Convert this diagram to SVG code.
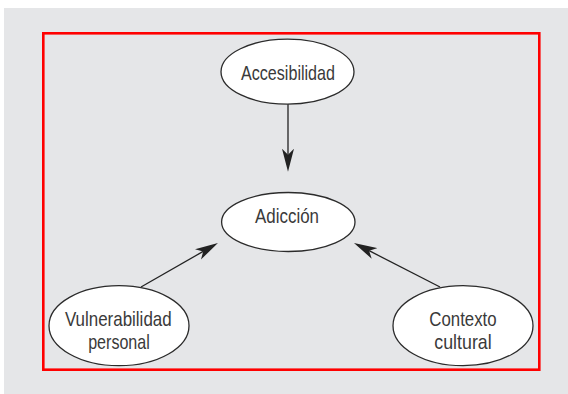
<svg xmlns="http://www.w3.org/2000/svg" width="568" height="394" viewBox="0 0 568 394">
<defs>
<style>
.bg{fill:#e5e6e8}
.frame{fill:none;stroke:#ff0000;stroke-width:2.6}
.node ellipse{fill:#fff;stroke:#2b2b2b;stroke-width:1.3}
.node text{font-family:"Liberation Sans",Arial,sans-serif;font-size:21px;fill:#3a3a3a;text-anchor:middle}
.edge{stroke:#222;stroke-width:1.3;fill:none;marker-end:url(#ah)}
</style>
<marker id="ah" markerUnits="userSpaceOnUse" viewBox="0 -7 24 14" refX="6" refY="0" markerWidth="24" markerHeight="14" orient="auto">
<path d="M0,-6 L23,0 L0,6 L6,0 Z" fill="#222"/>
</marker>
</defs>
<rect class="bg" x="4" y="8" width="564" height="386"/>
<rect class="frame" x="43.3" y="33.3" width="496" height="336.4"/>
<g id="connectors">
<line class="edge" x1="288" y1="104" x2="288" y2="154.7"/>
<line class="edge" x1="141" y1="287" x2="203.2" y2="251.4"/>
<line class="edge" x1="440" y1="287" x2="369.1" y2="250.7"/>
</g>
<g id="accesibilidad" class="node">
<ellipse cx="287.5" cy="71.7" rx="66.5" ry="32.5"/>
<text x="288" y="80" textLength="94" lengthAdjust="spacingAndGlyphs">Accesibilidad</text>
</g>
<g id="adiccion" class="node">
<ellipse cx="288.3" cy="222" rx="66.7" ry="29.5"/>
<text x="287" y="223.3" textLength="64" lengthAdjust="spacingAndGlyphs">Adicción</text>
</g>
<g id="vulnerabilidad" class="node">
<ellipse cx="119" cy="325.7" rx="70" ry="40"/>
<text x="118.3" y="325.7" textLength="106.7" lengthAdjust="spacingAndGlyphs">Vulnerabilidad</text>
<text x="119" y="349" textLength="61.7" lengthAdjust="spacingAndGlyphs">personal</text>
</g>
<g id="contexto" class="node">
<ellipse cx="463" cy="325.7" rx="70" ry="40"/>
<text x="463" y="325.7" textLength="67.3" lengthAdjust="spacingAndGlyphs">Contexto</text>
<text x="463" y="349.3" textLength="57.3" lengthAdjust="spacingAndGlyphs">cultural</text>
</g>
</svg>
